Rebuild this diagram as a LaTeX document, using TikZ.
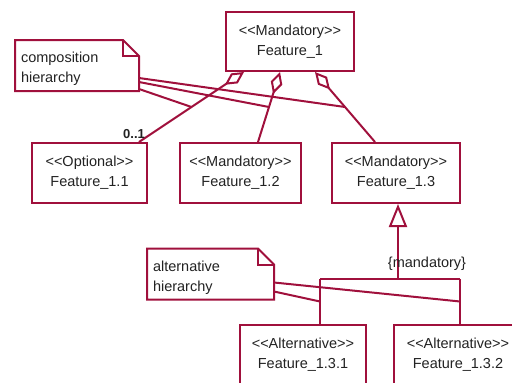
\documentclass[tikz,border=0pt]{standalone}
\usepackage{fontspec}
\setmainfont{Liberation Sans}
\usepackage{tikz}
\usetikzlibrary{arrows.meta}
\definecolor{umlred}{HTML}{A0103C}
\definecolor{umltext}{HTML}{222222}
\newcommand{\stereo}[1]{<\kern0pt<#1>\kern0pt>}

\begin{document}
\begin{tikzpicture}[
    x=1pt,y=-1pt,
    line width=2pt,
    font=\fontsize{14.5}{20}\selectfont,
    feature/.style={draw=umlred,text=umltext,align=center,
      minimum width=128pt,minimum height=60pt,inner sep=0pt},
    note/.style={text=umltext,align=left,text width=#1,inner xsep=5pt,
      inner ysep=0pt,minimum height=49pt},
    compose/.style={draw=umlred,arrows={Diamond[open,length=23pt,width=12pt]-}},
    link/.style={draw=umlred},
    mult/.style={text=umltext,font=\fontsize{13}{15}\selectfont\bfseries},
  ]
    \useasboundingbox (0,0) rectangle (512,383);

    % features
    \node[feature,minimum height=59pt] (f1) at (290,41.5) {\stereo{Mandatory}\\Feature\_1};
    \node[feature,minimum width=115pt] (f11) at (89.5,173) {\stereo{Optional}\\Feature\_1.1};
    \node[feature,minimum width=121pt] (f12) at (240.5,173) {\stereo{Mandatory}\\Feature\_1.2};
    \node[feature] (f13) at (396,173) {\stereo{Mandatory}\\Feature\_1.3};
    \node[feature,minimum width=126pt] (f131) at (303,355) {\stereo{Alternative}\\Feature\_1.3.1};
    \node[feature] (f132) at (458,355) {\stereo{Alternative}\\Feature\_1.3.2};

    % composition
    \draw[compose] ([xshift=19]f1.south west) -- coordinate[pos=.5] (a11) ([xshift=-9]f11.north east);
    \draw[compose] ([xshift=55]f1.south west) -- coordinate[pos=.5] (a12) ([xshift=17.5]f12.north);
    \draw[compose] ([xshift=90]f1.south west) -- coordinate[pos=.5] (a13) ([xshift=-21]f13.north);
    \node[mult] (m11) at ([xshift=-14,yshift=8]f11.north east) {0..1};

    % alternatives
    \coordinate (split) at (398,279);
    \coordinate (j1) at (320,279);
    \coordinate (j2) at (460,279);
    \draw[link,arrows={Triangle[open,length=23pt,width=18pt]-}] ([xshift=2]f13.south) -- (split);
    \draw[link] (j1) -- (j2);
    \draw[link] (j1) -- coordinate[pos=.5] (b1) (j1 |- f131.north);
    \draw[link] (j2) -- coordinate[pos=.5] (b2) (j2 |- f132.north);
    \node[text=umltext] (mand) at (427,264) {\{mandatory\}};

    % notes
    \node[note=112pt] (cnote) at (77,65.5) {\rule{0pt}{18pt}composition\\hierarchy};
    \draw[link] (cnote.south west) -- (cnote.north west) -- ([xshift=-16]cnote.north east)
      -- ([yshift=-16]cnote.north east) -- (cnote.south east) -- cycle;
    \draw[link] ([xshift=-16]cnote.north east) |- ([yshift=-16]cnote.north east);
    \draw[link] ([yshift=13]cnote.south east) -- (a13);
    \draw[link] ([yshift=9]cnote.south east) -- (a12);
    \draw[link] ([yshift=2]cnote.south east) -- (a11);

    \node[note=115pt] (anote) at (210.5,274) {\rule{0pt}{18pt}alternative\\hierarchy};
    \draw[link] (anote.south west) -- (anote.north west) -- ([xshift=-16]anote.north east)
      -- ([yshift=-16]anote.north east) -- (anote.south east) -- cycle;
    \draw[link] ([xshift=-16]anote.north east) |- ([yshift=-16]anote.north east);
    \draw[link] ([yshift=17]anote.south east) -- (b2);
    \draw[link] ([yshift=8]anote.south east) -- (b1);
\end{tikzpicture}
\end{document}
